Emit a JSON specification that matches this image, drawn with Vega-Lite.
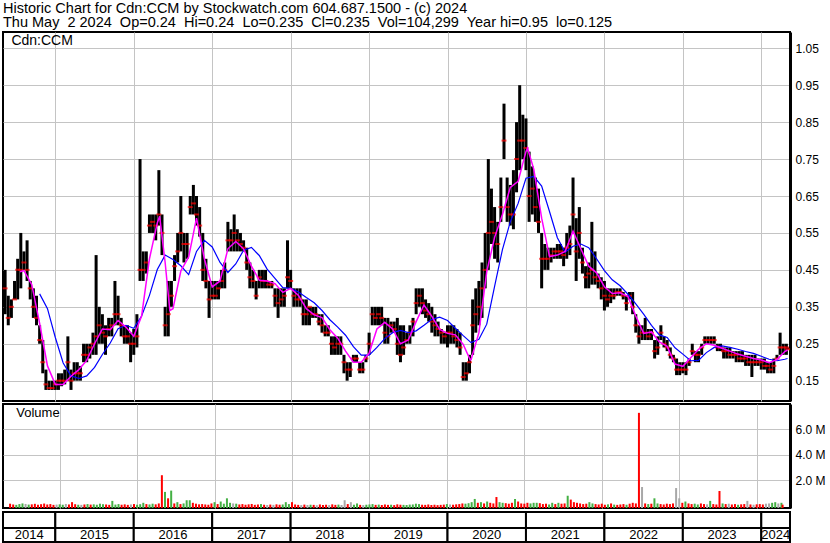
{
"$schema": "https://vega.github.io/schema/vega-lite/v6.json",
"padding": {"left": 1, "top": 0, "right": 0, "bottom": 0},
"background": "white",
"spacing": 1,
"resolve": {"scale": {"x": "independent", "y": "independent"}},
"config": {
  "view": {"stroke": "black", "strokeWidth": 2},
  "font": "Liberation Sans",
  "axis": {"labelFont": "Liberation Sans", "labelFontSize": 12, "labelColor": "black", "gridColor": "#c4c4c4", "gridWidth": 1, "gridOpacity": 1, "ticks": false, "title": null, "domain": false, "labelOverlap": false}
},
"datasets": {
"px": [
{"t":2014.36,"h":0.45,"l":0.33,"c":0.40,"v":180000,"u":"r"},
{"t":2014.40,"h":0.38,"l":0.30,"c":0.32,"v":120000,"u":"r"},
{"t":2014.44,"h":0.37,"l":0.32,"c":0.35,"v":90000,"u":"g"},
{"t":2014.48,"h":0.42,"l":0.37,"c":0.37,"v":150000,"u":"g"},
{"t":2014.52,"h":0.48,"l":0.37,"c":0.45,"v":200000,"u":"g"},
{"t":2014.56,"h":0.55,"l":0.40,"c":0.45,"v":160000,"u":"n"},
{"t":2014.60,"h":0.50,"l":0.45,"c":0.47,"v":110000,"u":"g"},
{"t":2014.64,"h":0.53,"l":0.42,"c":0.45,"v":130000,"u":"r"},
{"t":2014.68,"h":0.42,"l":0.37,"c":0.40,"v":170000,"u":"r"},
{"t":2014.72,"h":0.40,"l":0.32,"c":0.35,"v":100000,"u":"r"},
{"t":2014.76,"h":0.38,"l":0.30,"c":0.32,"v":140000,"u":"r"},
{"t":2014.80,"h":0.30,"l":0.25,"c":0.26,"v":190000,"u":"r"},
{"t":2014.84,"h":0.26,"l":0.17,"c":0.20,"v":120000,"u":"r"},
{"t":2014.88,"h":0.18,"l":0.125,"c":0.14,"v":150000,"u":"r"},
{"t":2014.92,"h":0.15,"l":0.125,"c":0.13,"v":90000,"u":"r"},
{"t":2014.96,"h":0.15,"l":0.125,"c":0.13,"v":110000,"u":"n"},
{"t":2015.00,"h":0.15,"l":0.125,"c":0.14,"v":130000,"u":"g"},
{"t":2015.04,"h":0.17,"l":0.125,"c":0.15,"v":100000,"u":"g"},
{"t":2015.08,"h":0.17,"l":0.135,"c":0.15,"v":160000,"u":"n"},
{"t":2015.12,"h":0.18,"l":0.14,"c":0.15,"v":120000,"u":"r"},
{"t":2015.16,"h":0.27,"l":0.15,"c":0.20,"v":300000,"u":"r"},
{"t":2015.20,"h":0.18,"l":0.125,"c":0.15,"v":140000,"u":"r"},
{"t":2015.24,"h":0.20,"l":0.15,"c":0.17,"v":100000,"u":"g"},
{"t":2015.28,"h":0.20,"l":0.15,"c":0.17,"v":90000,"u":"n"},
{"t":2015.32,"h":0.19,"l":0.15,"c":0.17,"v":120000,"u":"r"},
{"t":2015.36,"h":0.25,"l":0.20,"c":0.22,"v":150000,"u":"g"},
{"t":2015.40,"h":0.25,"l":0.20,"c":0.22,"v":110000,"u":"r"},
{"t":2015.44,"h":0.25,"l":0.21,"c":0.24,"v":130000,"u":"g"},
{"t":2015.48,"h":0.28,"l":0.22,"c":0.25,"v":100000,"u":"g"},
{"t":2015.52,"h":0.49,"l":0.22,"c":0.27,"v":180000,"u":"g"},
{"t":2015.56,"h":0.35,"l":0.25,"c":0.30,"v":140000,"u":"g"},
{"t":2015.60,"h":0.33,"l":0.25,"c":0.28,"v":120000,"u":"r"},
{"t":2015.64,"h":0.30,"l":0.22,"c":0.27,"v":90000,"u":"r"},
{"t":2015.68,"h":0.32,"l":0.27,"c":0.29,"v":400000,"u":"g"},
{"t":2015.72,"h":0.32,"l":0.27,"c":0.30,"v":110000,"u":"g"},
{"t":2015.76,"h":0.42,"l":0.30,"c":0.33,"v":150000,"u":"g"},
{"t":2015.80,"h":0.38,"l":0.30,"c":0.33,"v":100000,"u":"r"},
{"t":2015.84,"h":0.32,"l":0.27,"c":0.30,"v":130000,"u":"r"},
{"t":2015.88,"h":0.30,"l":0.25,"c":0.27,"v":90000,"u":"r"},
{"t":2015.92,"h":0.30,"l":0.25,"c":0.27,"v":120000,"u":"n"},
{"t":2015.96,"h":0.28,"l":0.20,"c":0.25,"v":150000,"u":"r"},
{"t":2016.00,"h":0.29,"l":0.22,"c":0.25,"v":100000,"u":"g"},
{"t":2016.04,"h":0.33,"l":0.24,"c":0.27,"v":140000,"u":"g"},
{"t":2016.08,"h":0.75,"l":0.42,"c":0.45,"v":250000,"u":"g"},
{"t":2016.12,"h":0.50,"l":0.42,"c":0.45,"v":150000,"u":"r"},
{"t":2016.16,"h":0.50,"l":0.44,"c":0.47,"v":120000,"u":"g"},
{"t":2016.20,"h":0.60,"l":0.55,"c":0.57,"v":180000,"u":"g"},
{"t":2016.24,"h":0.60,"l":0.55,"c":0.58,"v":130000,"u":"r"},
{"t":2016.28,"h":0.60,"l":0.53,"c":0.57,"v":200000,"u":"r"},
{"t":2016.32,"h":0.72,"l":0.57,"c":0.60,"v":2400000,"u":"r"},
{"t":2016.36,"h":0.60,"l":0.49,"c":0.55,"v":1100000,"u":"g"},
{"t":2016.40,"h":0.35,"l":0.27,"c":0.30,"v":600000,"u":"r"},
{"t":2016.44,"h":0.42,"l":0.27,"c":0.33,"v":1200000,"u":"g"},
{"t":2016.48,"h":0.42,"l":0.35,"c":0.38,"v":200000,"u":"r"},
{"t":2016.52,"h":0.49,"l":0.42,"c":0.46,"v":300000,"u":"g"},
{"t":2016.56,"h":0.55,"l":0.47,"c":0.50,"v":150000,"u":"r"},
{"t":2016.60,"h":0.65,"l":0.50,"c":0.55,"v":200000,"u":"g"},
{"t":2016.64,"h":0.55,"l":0.47,"c":0.52,"v":450000,"u":"g"},
{"t":2016.68,"h":0.55,"l":0.48,"c":0.52,"v":450000,"u":"g"},
{"t":2016.72,"h":0.65,"l":0.60,"c":0.62,"v":250000,"u":"r"},
{"t":2016.76,"h":0.68,"l":0.60,"c":0.63,"v":180000,"u":"r"},
{"t":2016.80,"h":0.65,"l":0.57,"c":0.60,"v":130000,"u":"r"},
{"t":2016.84,"h":0.62,"l":0.54,"c":0.57,"v":150000,"u":"r"},
{"t":2016.88,"h":0.55,"l":0.42,"c":0.45,"v":120000,"u":"r"},
{"t":2016.92,"h":0.48,"l":0.40,"c":0.42,"v":100000,"u":"r"},
{"t":2016.96,"h":0.42,"l":0.32,"c":0.37,"v":200000,"u":"r"},
{"t":2017.00,"h":0.42,"l":0.37,"c":0.38,"v":300000,"u":"g"},
{"t":2017.04,"h":0.42,"l":0.37,"c":0.38,"v":150000,"u":"r"},
{"t":2017.08,"h":0.42,"l":0.37,"c":0.40,"v":350000,"u":"g"},
{"t":2017.12,"h":0.45,"l":0.40,"c":0.42,"v":180000,"u":"g"},
{"t":2017.16,"h":0.47,"l":0.40,"c":0.45,"v":600000,"u":"g"},
{"t":2017.20,"h":0.58,"l":0.50,"c":0.53,"v":250000,"u":"g"},
{"t":2017.24,"h":0.56,"l":0.50,"c":0.53,"v":200000,"u":"n"},
{"t":2017.28,"h":0.60,"l":0.50,"c":0.55,"v":180000,"u":"g"},
{"t":2017.32,"h":0.56,"l":0.50,"c":0.53,"v":120000,"u":"r"},
{"t":2017.36,"h":0.55,"l":0.50,"c":0.52,"v":150000,"u":"r"},
{"t":2017.40,"h":0.53,"l":0.50,"c":0.51,"v":100000,"u":"r"},
{"t":2017.44,"h":0.51,"l":0.45,"c":0.47,"v":130000,"u":"r"},
{"t":2017.48,"h":0.47,"l":0.40,"c":0.43,"v":160000,"u":"r"},
{"t":2017.52,"h":0.45,"l":0.40,"c":0.42,"v":90000,"u":"r"},
{"t":2017.56,"h":0.42,"l":0.37,"c":0.38,"v":120000,"u":"r"},
{"t":2017.60,"h":0.45,"l":0.40,"c":0.43,"v":150000,"u":"g"},
{"t":2017.64,"h":0.45,"l":0.40,"c":0.42,"v":100000,"u":"r"},
{"t":2017.68,"h":0.45,"l":0.40,"c":0.42,"v":80000,"u":"n"},
{"t":2017.72,"h":0.42,"l":0.40,"c":0.41,"v":110000,"u":"r"},
{"t":2017.76,"h":0.42,"l":0.40,"c":0.41,"v":90000,"u":"n"},
{"t":2017.80,"h":0.40,"l":0.35,"c":0.38,"v":130000,"u":"r"},
{"t":2017.84,"h":0.40,"l":0.32,"c":0.36,"v":100000,"u":"r"},
{"t":2017.88,"h":0.40,"l":0.35,"c":0.37,"v":120000,"u":"g"},
{"t":2017.92,"h":0.40,"l":0.35,"c":0.38,"v":300000,"u":"g"},
{"t":2017.96,"h":0.53,"l":0.40,"c":0.43,"v":150000,"u":"g"},
{"t":2018.00,"h":0.45,"l":0.40,"c":0.42,"v":300000,"u":"r"},
{"t":2018.04,"h":0.40,"l":0.35,"c":0.38,"v":120000,"u":"r"},
{"t":2018.08,"h":0.40,"l":0.35,"c":0.37,"v":90000,"u":"r"},
{"t":2018.12,"h":0.40,"l":0.35,"c":0.37,"v":70000,"u":"n"},
{"t":2018.16,"h":0.37,"l":0.30,"c":0.33,"v":110000,"u":"r"},
{"t":2018.20,"h":0.37,"l":0.30,"c":0.33,"v":80000,"u":"n"},
{"t":2018.24,"h":0.35,"l":0.30,"c":0.35,"v":100000,"u":"g"},
{"t":2018.28,"h":0.35,"l":0.32,"c":0.33,"v":90000,"u":"r"},
{"t":2018.32,"h":0.35,"l":0.32,"c":0.33,"v":60000,"u":"n"},
{"t":2018.36,"h":0.33,"l":0.30,"c":0.31,"v":120000,"u":"r"},
{"t":2018.40,"h":0.33,"l":0.28,"c":0.30,"v":80000,"u":"r"},
{"t":2018.44,"h":0.30,"l":0.27,"c":0.28,"v":100000,"u":"r"},
{"t":2018.48,"h":0.30,"l":0.27,"c":0.28,"v":70000,"u":"n"},
{"t":2018.52,"h":0.27,"l":0.22,"c":0.25,"v":130000,"u":"r"},
{"t":2018.56,"h":0.27,"l":0.22,"c":0.24,"v":90000,"u":"r"},
{"t":2018.60,"h":0.27,"l":0.22,"c":0.25,"v":110000,"u":"g"},
{"t":2018.64,"h":0.27,"l":0.22,"c":0.25,"v":80000,"u":"n"},
{"t":2018.68,"h":0.22,"l":0.17,"c":0.20,"v":450000,"u":"n"},
{"t":2018.72,"h":0.20,"l":0.15,"c":0.18,"v":150000,"u":"r"},
{"t":2018.76,"h":0.20,"l":0.16,"c":0.18,"v":300000,"u":"n"},
{"t":2018.80,"h":0.22,"l":0.20,"c":0.21,"v":100000,"u":"g"},
{"t":2018.84,"h":0.22,"l":0.20,"c":0.21,"v":200000,"u":"g"},
{"t":2018.88,"h":0.20,"l":0.17,"c":0.18,"v":90000,"u":"r"},
{"t":2018.92,"h":0.20,"l":0.17,"c":0.18,"v":70000,"u":"n"},
{"t":2018.96,"h":0.22,"l":0.20,"c":0.21,"v":100000,"u":"g"},
{"t":2019.00,"h":0.28,"l":0.22,"c":0.25,"v":120000,"u":"g"},
{"t":2019.04,"h":0.35,"l":0.30,"c":0.33,"v":150000,"u":"g"},
{"t":2019.08,"h":0.35,"l":0.30,"c":0.32,"v":90000,"u":"r"},
{"t":2019.12,"h":0.35,"l":0.30,"c":0.33,"v":110000,"u":"g"},
{"t":2019.16,"h":0.35,"l":0.30,"c":0.32,"v":80000,"u":"r"},
{"t":2019.20,"h":0.32,"l":0.25,"c":0.28,"v":120000,"u":"r"},
{"t":2019.24,"h":0.32,"l":0.25,"c":0.27,"v":90000,"u":"r"},
{"t":2019.28,"h":0.31,"l":0.28,"c":0.30,"v":100000,"u":"g"},
{"t":2019.32,"h":0.31,"l":0.28,"c":0.29,"v":70000,"u":"r"},
{"t":2019.36,"h":0.32,"l":0.22,"c":0.25,"v":130000,"u":"r"},
{"t":2019.40,"h":0.30,"l":0.20,"c":0.22,"v":100000,"u":"r"},
{"t":2019.44,"h":0.30,"l":0.22,"c":0.24,"v":90000,"u":"g"},
{"t":2019.48,"h":0.28,"l":0.25,"c":0.26,"v":80000,"u":"g"},
{"t":2019.52,"h":0.30,"l":0.25,"c":0.28,"v":110000,"u":"g"},
{"t":2019.56,"h":0.32,"l":0.27,"c":0.31,"v":120000,"u":"g"},
{"t":2019.60,"h":0.40,"l":0.33,"c":0.36,"v":180000,"u":"g"},
{"t":2019.64,"h":0.40,"l":0.35,"c":0.38,"v":150000,"u":"g"},
{"t":2019.68,"h":0.40,"l":0.33,"c":0.36,"v":100000,"u":"r"},
{"t":2019.72,"h":0.37,"l":0.32,"c":0.34,"v":90000,"u":"r"},
{"t":2019.76,"h":0.36,"l":0.31,"c":0.33,"v":120000,"u":"r"},
{"t":2019.80,"h":0.35,"l":0.28,"c":0.31,"v":80000,"u":"r"},
{"t":2019.84,"h":0.33,"l":0.27,"c":0.30,"v":100000,"u":"r"},
{"t":2019.88,"h":0.31,"l":0.27,"c":0.29,"v":70000,"u":"r"},
{"t":2019.92,"h":0.29,"l":0.25,"c":0.28,"v":90000,"u":"r"},
{"t":2019.96,"h":0.28,"l":0.25,"c":0.27,"v":110000,"u":"r"},
{"t":2020.00,"h":0.30,"l":0.24,"c":0.28,"v":150000,"u":"g"},
{"t":2020.04,"h":0.30,"l":0.25,"c":0.28,"v":120000,"u":"n"},
{"t":2020.08,"h":0.30,"l":0.25,"c":0.27,"v":100000,"u":"r"},
{"t":2020.12,"h":0.29,"l":0.24,"c":0.26,"v":130000,"u":"r"},
{"t":2020.16,"h":0.28,"l":0.22,"c":0.24,"v":150000,"u":"r"},
{"t":2020.20,"h":0.20,"l":0.15,"c":0.16,"v":200000,"u":"r"},
{"t":2020.24,"h":0.20,"l":0.15,"c":0.17,"v":180000,"u":"g"},
{"t":2020.28,"h":0.22,"l":0.17,"c":0.20,"v":220000,"u":"g"},
{"t":2020.32,"h":0.37,"l":0.22,"c":0.30,"v":300000,"u":"g"},
{"t":2020.36,"h":0.40,"l":0.28,"c":0.33,"v":550000,"u":"g"},
{"t":2020.40,"h":0.42,"l":0.30,"c":0.35,"v":250000,"u":"r"},
{"t":2020.44,"h":0.47,"l":0.32,"c":0.40,"v":300000,"u":"g"},
{"t":2020.48,"h":0.55,"l":0.40,"c":0.45,"v":200000,"u":"r"},
{"t":2020.52,"h":0.75,"l":0.45,"c":0.55,"v":350000,"u":"g"},
{"t":2020.56,"h":0.67,"l":0.52,"c":0.58,"v":250000,"u":"r"},
{"t":2020.60,"h":0.62,"l":0.48,"c":0.55,"v":200000,"u":"r"},
{"t":2020.64,"h":0.58,"l":0.47,"c":0.52,"v":700000,"u":"r"},
{"t":2020.68,"h":0.70,"l":0.58,"c":0.62,"v":300000,"u":"g"},
{"t":2020.72,"h":0.90,"l":0.75,"c":0.80,"v":250000,"u":"g"},
{"t":2020.76,"h":0.70,"l":0.58,"c":0.62,"v":220000,"u":"r"},
{"t":2020.80,"h":0.68,"l":0.57,"c":0.60,"v":180000,"u":"r"},
{"t":2020.84,"h":0.72,"l":0.56,"c":0.60,"v":250000,"u":"r"},
{"t":2020.88,"h":0.85,"l":0.66,"c":0.75,"v":550000,"u":"g"},
{"t":2020.92,"h":0.95,"l":0.72,"c":0.80,"v":350000,"u":"r"},
{"t":2020.96,"h":0.87,"l":0.75,"c":0.80,"v":200000,"u":"r"},
{"t":2021.00,"h":0.86,"l":0.72,"c":0.78,"v":180000,"u":"r"},
{"t":2021.04,"h":0.77,"l":0.58,"c":0.65,"v":250000,"u":"r"},
{"t":2021.08,"h":0.73,"l":0.60,"c":0.67,"v":200000,"u":"g"},
{"t":2021.12,"h":0.70,"l":0.58,"c":0.62,"v":250000,"u":"g"},
{"t":2021.16,"h":0.67,"l":0.55,"c":0.58,"v":250000,"u":"g"},
{"t":2021.20,"h":0.55,"l":0.40,"c":0.48,"v":220000,"u":"r"},
{"t":2021.24,"h":0.52,"l":0.45,"c":0.48,"v":150000,"u":"r"},
{"t":2021.28,"h":0.51,"l":0.45,"c":0.48,"v":180000,"u":"r"},
{"t":2021.32,"h":0.51,"l":0.47,"c":0.49,"v":120000,"u":"g"},
{"t":2021.36,"h":0.51,"l":0.48,"c":0.50,"v":250000,"u":"g"},
{"t":2021.40,"h":0.52,"l":0.48,"c":0.50,"v":150000,"u":"r"},
{"t":2021.44,"h":0.52,"l":0.48,"c":0.50,"v":250000,"u":"g"},
{"t":2021.48,"h":0.51,"l":0.46,"c":0.49,"v":180000,"u":"r"},
{"t":2021.52,"h":0.55,"l":0.48,"c":0.51,"v":200000,"u":"r"},
{"t":2021.56,"h":0.57,"l":0.49,"c":0.52,"v":800000,"u":"g"},
{"t":2021.60,"h":0.70,"l":0.55,"c":0.60,"v":500000,"u":"r"},
{"t":2021.64,"h":0.59,"l":0.42,"c":0.50,"v":300000,"u":"r"},
{"t":2021.68,"h":0.62,"l":0.48,"c":0.55,"v":250000,"u":"r"},
{"t":2021.72,"h":0.51,"l":0.44,"c":0.47,"v":200000,"u":"r"},
{"t":2021.76,"h":0.46,"l":0.40,"c":0.43,"v":150000,"u":"r"},
{"t":2021.80,"h":0.47,"l":0.40,"c":0.44,"v":180000,"u":"r"},
{"t":2021.84,"h":0.58,"l":0.41,"c":0.45,"v":300000,"u":"g"},
{"t":2021.88,"h":0.50,"l":0.41,"c":0.43,"v":200000,"u":"g"},
{"t":2021.92,"h":0.44,"l":0.40,"c":0.42,"v":150000,"u":"r"},
{"t":2021.96,"h":0.43,"l":0.37,"c":0.40,"v":120000,"u":"r"},
{"t":2022.00,"h":0.42,"l":0.34,"c":0.38,"v":180000,"u":"r"},
{"t":2022.04,"h":0.40,"l":0.35,"c":0.37,"v":100000,"u":"r"},
{"t":2022.08,"h":0.40,"l":0.36,"c":0.38,"v":130000,"u":"g"},
{"t":2022.12,"h":0.40,"l":0.37,"c":0.38,"v":200000,"u":"r"},
{"t":2022.16,"h":0.40,"l":0.38,"c":0.39,"v":110000,"u":"g"},
{"t":2022.20,"h":0.40,"l":0.38,"c":0.39,"v":90000,"u":"r"},
{"t":2022.24,"h":0.39,"l":0.37,"c":0.38,"v":120000,"u":"r"},
{"t":2022.28,"h":0.38,"l":0.34,"c":0.36,"v":150000,"u":"r"},
{"t":2022.32,"h":0.39,"l":0.37,"c":0.38,"v":100000,"u":"g"},
{"t":2022.36,"h":0.39,"l":0.33,"c":0.35,"v":180000,"u":"r"},
{"t":2022.40,"h":0.33,"l":0.28,"c":0.30,"v":250000,"u":"r"},
{"t":2022.44,"h":0.30,"l":0.25,"c":0.27,"v":200000,"u":"r"},
{"t":2022.48,"h":0.30,"l":0.26,"c":0.28,"v":7260000,"u":"r"},
{"t":2022.52,"h":0.32,"l":0.26,"c":0.28,"v":1480000,"u":"n"},
{"t":2022.56,"h":0.29,"l":0.26,"c":0.27,"v":200000,"u":"r"},
{"t":2022.60,"h":0.29,"l":0.26,"c":0.28,"v":150000,"u":"g"},
{"t":2022.64,"h":0.26,"l":0.21,"c":0.23,"v":180000,"u":"r"},
{"t":2022.68,"h":0.27,"l":0.22,"c":0.24,"v":600000,"u":"g"},
{"t":2022.72,"h":0.30,"l":0.26,"c":0.28,"v":200000,"u":"g"},
{"t":2022.76,"h":0.27,"l":0.24,"c":0.25,"v":150000,"u":"r"},
{"t":2022.80,"h":0.26,"l":0.23,"c":0.24,"v":120000,"u":"r"},
{"t":2022.84,"h":0.24,"l":0.21,"c":0.22,"v":180000,"u":"r"},
{"t":2022.88,"h":0.22,"l":0.20,"c":0.21,"v":150000,"u":"r"},
{"t":2022.92,"h":0.21,"l":0.165,"c":0.18,"v":200000,"u":"r"},
{"t":2022.96,"h":0.20,"l":0.165,"c":0.18,"v":1400000,"u":"n"},
{"t":2023.00,"h":0.20,"l":0.17,"c":0.18,"v":600000,"u":"n"},
{"t":2023.04,"h":0.20,"l":0.165,"c":0.18,"v":250000,"u":"r"},
{"t":2023.08,"h":0.21,"l":0.19,"c":0.20,"v":350000,"u":"g"},
{"t":2023.12,"h":0.25,"l":0.22,"c":0.23,"v":200000,"u":"r"},
{"t":2023.16,"h":0.23,"l":0.20,"c":0.22,"v":150000,"u":"r"},
{"t":2023.20,"h":0.23,"l":0.20,"c":0.22,"v":180000,"u":"g"},
{"t":2023.24,"h":0.25,"l":0.22,"c":0.24,"v":120000,"u":"g"},
{"t":2023.28,"h":0.27,"l":0.25,"c":0.26,"v":200000,"u":"r"},
{"t":2023.32,"h":0.27,"l":0.25,"c":0.26,"v":150000,"u":"r"},
{"t":2023.36,"h":0.27,"l":0.25,"c":0.26,"v":130000,"u":"n"},
{"t":2023.40,"h":0.27,"l":0.25,"c":0.26,"v":400000,"u":"g"},
{"t":2023.44,"h":0.25,"l":0.23,"c":0.24,"v":150000,"u":"r"},
{"t":2023.48,"h":0.25,"l":0.23,"c":0.24,"v":120000,"u":"r"},
{"t":2023.52,"h":0.24,"l":0.21,"c":0.23,"v":1170000,"u":"r"},
{"t":2023.56,"h":0.24,"l":0.21,"c":0.23,"v":200000,"u":"g"},
{"t":2023.60,"h":0.24,"l":0.21,"c":0.22,"v":150000,"u":"r"},
{"t":2023.64,"h":0.23,"l":0.21,"c":0.22,"v":180000,"u":"n"},
{"t":2023.68,"h":0.23,"l":0.20,"c":0.22,"v":120000,"u":"r"},
{"t":2023.72,"h":0.23,"l":0.20,"c":0.21,"v":150000,"u":"r"},
{"t":2023.76,"h":0.23,"l":0.20,"c":0.21,"v":100000,"u":"g"},
{"t":2023.80,"h":0.22,"l":0.19,"c":0.21,"v":130000,"u":"r"},
{"t":2023.84,"h":0.22,"l":0.19,"c":0.20,"v":150000,"u":"r"},
{"t":2023.88,"h":0.22,"l":0.16,"c":0.20,"v":400000,"u":"n"},
{"t":2023.92,"h":0.22,"l":0.19,"c":0.20,"v":120000,"u":"r"},
{"t":2023.96,"h":0.21,"l":0.19,"c":0.20,"v":100000,"u":"n"},
{"t":2024.00,"h":0.21,"l":0.18,"c":0.20,"v":130000,"u":"r"},
{"t":2024.04,"h":0.21,"l":0.18,"c":0.19,"v":150000,"u":"r"},
{"t":2024.08,"h":0.20,"l":0.17,"c":0.19,"v":120000,"u":"r"},
{"t":2024.12,"h":0.20,"l":0.17,"c":0.18,"v":180000,"u":"n"},
{"t":2024.16,"h":0.21,"l":0.17,"c":0.19,"v":200000,"u":"n"},
{"t":2024.20,"h":0.22,"l":0.21,"c":0.21,"v":250000,"u":"g"},
{"t":2024.24,"h":0.28,"l":0.22,"c":0.24,"v":300000,"u":"g"},
{"t":2024.28,"h":0.25,"l":0.22,"c":0.24,"v":200000,"u":"n"},
{"t":2024.32,"h":0.25,"l":0.22,"c":0.24,"v":250000,"u":"g"},
{"t":2024.335,"h":0.24,"l":0.235,"c":0.235,"v":104299,"u":"r"}
],
"ma": [
{"t":2014.55,"m1":0.445},
{"t":2014.6,"m1":0.448},
{"t":2014.7,"m1":0.41},
{"t":2014.8,"m1":0.305,"m2":0.385},
{"t":2014.9,"m1":0.19,"m2":0.345},
{"t":2015.0,"m1":0.14,"m2":0.267},
{"t":2015.1,"m1":0.14,"m2":0.198},
{"t":2015.2,"m1":0.162,"m2":0.163},
{"t":2015.3,"m1":0.18,"m2":0.156},
{"t":2015.4,"m1":0.205,"m2":0.163},
{"t":2015.5,"m1":0.25,"m2":0.186},
{"t":2015.6,"m1":0.29,"m2":0.221},
{"t":2015.7,"m1":0.288,"m2":0.252},
{"t":2015.8,"m1":0.313,"m2":0.291},
{"t":2015.9,"m1":0.295,"m2":0.30},
{"t":2016.0,"m1":0.27,"m2":0.292},
{"t":2016.1,"m1":0.325,"m2":0.325},
{"t":2016.2,"m1":0.48,"m2":0.381},
{"t":2016.3,"m1":0.577,"m2":0.451},
{"t":2016.33,"m1":0.595},
{"t":2016.4,"m1":0.47,"m2":0.49},
{"t":2016.46,"m1":0.34},
{"t":2016.5,"m1":0.345,"m2":0.478},
{"t":2016.6,"m1":0.447,"m2":0.461},
{"t":2016.7,"m1":0.485,"m2":0.437},
{"t":2016.8,"m1":0.59,"m2":0.50},
{"t":2016.9,"m1":0.48,"m2":0.53},
{"t":2017.0,"m1":0.404,"m2":0.512},
{"t":2017.1,"m1":0.42,"m2":0.47},
{"t":2017.2,"m1":0.507,"m2":0.443},
{"t":2017.3,"m1":0.527,"m2":0.466},
{"t":2017.4,"m1":0.507,"m2":0.503},
{"t":2017.5,"m1":0.46,"m2":0.511},
{"t":2017.6,"m1":0.422,"m2":0.489},
{"t":2017.7,"m1":0.42,"m2":0.452},
{"t":2017.8,"m1":0.413,"m2":0.427},
{"t":2017.9,"m1":0.389,"m2":0.402},
{"t":2018.0,"m1":0.40,"m2":0.40},
{"t":2018.1,"m1":0.381,"m2":0.39},
{"t":2018.2,"m1":0.345,"m2":0.375},
{"t":2018.3,"m1":0.328,"m2":0.361},
{"t":2018.4,"m1":0.321,"m2":0.34},
{"t":2018.5,"m1":0.288,"m2":0.315},
{"t":2018.6,"m1":0.265,"m2":0.295},
{"t":2018.7,"m1":0.23,"m2":0.273},
{"t":2018.8,"m1":0.20,"m2":0.242},
{"t":2018.9,"m1":0.20,"m2":0.219},
{"t":2019.0,"m1":0.224,"m2":0.219},
{"t":2019.1,"m1":0.29,"m2":0.24},
{"t":2019.2,"m1":0.308,"m2":0.264},
{"t":2019.3,"m1":0.29,"m2":0.28},
{"t":2019.4,"m1":0.25,"m2":0.286},
{"t":2019.5,"m1":0.26,"m2":0.28},
{"t":2019.6,"m1":0.31,"m2":0.285},
{"t":2019.7,"m1":0.355,"m2":0.30},
{"t":2019.8,"m1":0.324,"m2":0.316},
{"t":2019.9,"m1":0.289,"m2":0.322},
{"t":2020.0,"m1":0.278,"m2":0.313},
{"t":2020.1,"m1":0.274,"m2":0.292},
{"t":2020.2,"m1":0.248,"m2":0.272},
{"t":2020.29,"m1":0.206},
{"t":2020.3,"m1":0.207,"m2":0.253},
{"t":2020.4,"m1":0.28,"m2":0.262},
{"t":2020.5,"m1":0.445,"m2":0.303},
{"t":2020.6,"m1":0.538,"m2":0.405},
{"t":2020.7,"m1":0.60,"m2":0.505},
{"t":2020.8,"m1":0.673,"m2":0.58},
{"t":2020.9,"m1":0.69,"m2":0.63},
{"t":2021.0,"m1":0.77,"m2":0.698},
{"t":2021.02,"m1":0.78},
{"t":2021.1,"m1":0.722,"m2":0.703},
{"t":2021.2,"m1":0.59,"m2":0.677},
{"t":2021.3,"m1":0.486,"m2":0.608},
{"t":2021.4,"m1":0.49,"m2":0.537},
{"t":2021.5,"m1":0.50,"m2":0.498},
{"t":2021.6,"m1":0.555,"m2":0.514},
{"t":2021.7,"m1":0.507,"m2":0.52},
{"t":2021.8,"m1":0.46,"m2":0.51},
{"t":2021.9,"m1":0.442,"m2":0.48},
{"t":2022.0,"m1":0.404,"m2":0.448},
{"t":2022.1,"m1":0.386,"m2":0.423},
{"t":2022.2,"m1":0.388,"m2":0.407},
{"t":2022.3,"m1":0.378,"m2":0.384},
{"t":2022.4,"m1":0.325,"m2":0.358},
{"t":2022.5,"m1":0.278,"m2":0.33},
{"t":2022.6,"m1":0.282,"m2":0.30},
{"t":2022.7,"m1":0.255,"m2":0.274},
{"t":2022.8,"m1":0.243,"m2":0.267},
{"t":2022.9,"m1":0.195,"m2":0.239},
{"t":2023.0,"m1":0.189,"m2":0.222},
{"t":2023.1,"m1":0.212,"m2":0.204},
{"t":2023.2,"m1":0.235,"m2":0.205},
{"t":2023.3,"m1":0.25,"m2":0.226},
{"t":2023.4,"m1":0.246,"m2":0.24},
{"t":2023.5,"m1":0.238,"m2":0.244},
{"t":2023.6,"m1":0.23,"m2":0.24},
{"t":2023.7,"m1":0.222,"m2":0.235},
{"t":2023.8,"m1":0.216,"m2":0.229},
{"t":2023.9,"m1":0.21,"m2":0.224},
{"t":2024.0,"m1":0.206,"m2":0.216},
{"t":2024.1,"m1":0.199,"m2":0.208},
{"t":2024.2,"m1":0.207,"m2":0.204},
{"t":2024.3,"m1":0.229,"m2":0.208},
{"t":2024.335,"m1":0.233,"m2":0.21}
],
"yr": [
{"a":2014.333,"b":2015,"y":"2014","m":2014.667},
{"a":2015,"b":2016,"y":"2015","m":2015.5},
{"a":2016,"b":2017,"y":"2016","m":2016.5},
{"a":2017,"b":2018,"y":"2017","m":2017.5},
{"a":2018,"b":2019,"y":"2018","m":2018.5},
{"a":2019,"b":2020,"y":"2019","m":2019.5},
{"a":2020,"b":2021,"y":"2020","m":2020.5},
{"a":2021,"b":2022,"y":"2021","m":2021.5},
{"a":2022,"b":2023,"y":"2022","m":2022.5},
{"a":2023,"b":2024,"y":"2023","m":2023.5},
{"a":2024,"b":2024.366,"y":"2024","m":2024.183}
]
},
"vconcat": [
{
 "width": 787, "height": 30,
 "view": {"stroke": null},
 "data": {"values": [{"r": "a", "s": "Historic Chart for Cdn:CCM by Stockwatch.com 604.687.1500 - (c) 2024"}, {"r": "b", "s": "Thu May\u00a0 2 2024\u00a0 Op=0.24\u00a0 Hi=0.24\u00a0 Lo=0.235\u00a0 Cl=0.235\u00a0 Vol=104,299\u00a0 Year hi=0.95\u00a0 lo=0.125"}]},
 "mark": {"type": "text", "align": "left", "baseline": "alphabetic", "fontSize": 14.5, "font": "Arial", "color": "black"},
 "encoding": {
   "x": {"datum": 0, "type": "quantitative", "scale": {"domain": [0, 1], "nice": false, "zero": false}, "axis": null},
   "y": {"field": "r", "type": "nominal", "scale": {"type": "point", "padding": 0.571, "align": 0.831}, "axis": null},
   "text": {"field": "s"}
 }
},
{
 "width": 787, "height": 369,
 "encoding": {"x": {"field": "t", "type": "quantitative", "scale": {"domain": [2014.333, 2024.366], "nice": false, "zero": false}, "axis": {"values": [2015,2016,2017,2018,2019,2020,2021,2022,2023,2024], "grid": true, "labels": false, "orient": "bottom", "minExtent": 0, "maxExtent": 0}}},
 "layer": [
  {"data": {"name": "px"}, "mark": {"type": "rule", "strokeWidth": 3, "color": "black"},
   "encoding": {"y": {"field": "l", "type": "quantitative", "scale": {"domain": [0.095, 1.094], "nice": false, "zero": false},
     "axis": {"orient": "right", "values": [0.15,0.2,0.25,0.3,0.35,0.4,0.45,0.5,0.55,0.6,0.65,0.7,0.75,0.8,0.85,0.9,0.95,1.0,1.05], "format": ".2f", "grid": true, "domain": true, "domainColor": "black", "domainWidth": 3, "labelPadding": 5}},
     "y2": {"field": "h"}}},
  {"data": {"name": "px"}, "mark": {"type": "tick", "orient": "horizontal", "color": "#ff0000", "thickness": 2, "size": 5},
   "encoding": {"y": {"field": "c", "type": "quantitative", "scale": {"domain": [0.095, 1.094], "nice": false, "zero": false}}}},
  {"data": {"name": "ma"}, "transform": [{"filter": "isValid(datum.m2)"}], "mark": {"type": "line", "color": "#0000ff", "strokeWidth": 1.2},
   "encoding": {"y": {"field": "m2", "type": "quantitative", "scale": {"domain": [0.095, 1.094], "nice": false, "zero": false}}}},
  {"data": {"name": "ma"}, "transform": [{"filter": "isValid(datum.m1)"}], "mark": {"type": "line", "color": "#ff00ff", "strokeWidth": 1.5},
   "encoding": {"y": {"field": "m1", "type": "quantitative", "scale": {"domain": [0.095, 1.094], "nice": false, "zero": false}}}},
  {"data": {"values": [{"t": 2014.44, "p": 1.07, "s": "Cdn:CCM"}]}, "mark": {"type": "text", "align": "left", "baseline": "middle", "fontSize": 14, "color": "black"},
   "encoding": {"y": {"field": "p", "type": "quantitative", "scale": {"domain": [0.095, 1.094], "nice": false, "zero": false}}, "text": {"field": "s"}}}
 ]
},
{
 "width": 787, "height": 104,
 "encoding": {"x": {"field": "t", "type": "quantitative", "scale": {"domain": [2014.333, 2024.366], "nice": false, "zero": false}, "axis": {"values": [2015,2016,2017,2018,2019,2020,2021,2022,2023,2024], "grid": true, "labels": false, "orient": "bottom", "minExtent": 0, "maxExtent": 0}}},
 "layer": [
  {"data": {"name": "px"}, "mark": {"type": "bar", "width": 2},
   "encoding": {"y": {"field": "v", "type": "quantitative", "scale": {"domain": [-155000, 7950000], "nice": false, "zero": false},
     "axis": {"orient": "right", "values": [2000000, 4000000, 6000000], "labelExpr": "format(datum.value / 1000000, '.1f') + ' M'", "grid": true, "domain": true, "domainColor": "black", "domainWidth": 3, "labelPadding": 5}},
     "y2": {"datum": -155000},
     "color": {"field": "u", "type": "nominal", "scale": {"domain": ["r", "g", "n"], "range": ["#ff0000", "#44b044", "#a8a8a8"]}, "legend": null}}},
  {"data": {"values": [{"t": 2014.44, "p": 7250000, "s": "Volume"}]}, "mark": {"type": "text", "align": "left", "baseline": "middle", "fontSize": 13, "color": "black"},
   "encoding": {"y": {"field": "p", "type": "quantitative", "scale": {"domain": [-155000, 7950000], "nice": false, "zero": false}}, "text": {"field": "s"}}}
 ]
},
{
 "width": 787, "height": 30,
 "data": {"name": "yr"},
 "layer": [
  {"mark": {"type": "rect", "fill": "white", "stroke": "black", "strokeWidth": 2},
   "encoding": {"x": {"field": "a", "type": "quantitative", "scale": {"domain": [2014.333, 2024.366], "nice": false, "zero": false}, "axis": null},
     "x2": {"field": "b"},
     "y": {"datum": 0.47, "type": "quantitative", "scale": {"domain": [0, 1], "nice": false, "zero": false}, "axis": null},
     "y2": {"datum": 1}}},
  {"mark": {"type": "rect", "fill": "white", "stroke": "black", "strokeWidth": 2},
   "encoding": {"x": {"field": "a", "type": "quantitative"}, "x2": {"field": "b"},
     "y": {"datum": 0, "type": "quantitative"}, "y2": {"datum": 0.47}}},
  {"mark": {"type": "text", "align": "center", "baseline": "middle", "fontSize": 13, "color": "black"},
   "encoding": {"x": {"field": "m", "type": "quantitative"}, "y": {"datum": 0.23, "type": "quantitative"}, "text": {"field": "y"}}}
 ]
}
]
}
